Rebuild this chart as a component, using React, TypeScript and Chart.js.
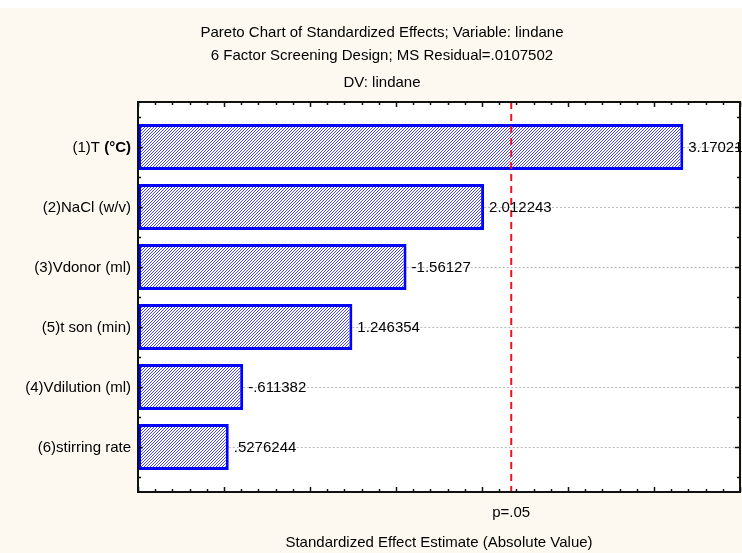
import React, { useEffect, useRef } from "react";
import { Chart, registerables } from "chart.js";

Chart.register(...registerables);

// ---- data ----
const categories = [
  "(1)T (°C)",
  "(2)NaCl (w/v)",
  "(3)Vdonor (ml)",
  "(5)t son (min)",
  "(4)Vdilution (ml)",
  "(6)stirring rate",
];
const boldSuffixes = ["(°C)", "", "", "", "", ""];
const effects = [3.17021, 2.012243, -1.56127, 1.246354, -0.611382, 0.5276244];
const effectLabels = ["3.17021", "2.012243", "-1.56127", "1.246354", "-.611382", ".5276244"];
const pCritical = 2.17;
const pLabel = "p=.05";
const titleLines = [
  "Pareto Chart of Standardized Effects; Variable: lindane",
  "6 Factor Screening Design; MS Residual=.0107502",
];
const subtitleText = "DV: lindane";
const xTitle = "Standardized Effect Estimate (Absolute Value)";
const xMin = 0;
const xMax = 3.5;

const FONT = "'Liberation Sans', Arial, Helvetica, sans-serif";
const FS = 15;
const CREAM = "#fdf9f0";

function makeHatch(): CanvasPattern | string {
  const c = document.createElement("canvas");
  c.width = 3;
  c.height = 3;
  const g = c.getContext("2d");
  if (!g) return "#8888ff";
  g.fillStyle = "#ffffff";
  g.fillRect(0, 0, 3, 3);
  g.fillStyle = "#4646ff";
  g.fillRect(2, 0, 1, 1);
  g.fillRect(1, 1, 1, 1);
  g.fillRect(0, 2, 1, 1);
  const p = g.createPattern(c, "repeat");
  return p || "#8888ff";
}

const paretoPlugin = {
  id: "paretoDecor",
  beforeDraw(chart: any) {
    const { ctx, chartArea: a } = chart;
    ctx.save();
    ctx.fillStyle = "#ffffff";
    ctx.fillRect(a.left, a.top, a.right - a.left, a.bottom - a.top);
    ctx.restore();
  },
  beforeDatasetsDraw(chart: any) {
    const { ctx, chartArea: a } = chart;
    const meta = chart.getDatasetMeta(0);
    ctx.save();
    ctx.strokeStyle = "#b8b8b8";
    ctx.lineWidth = 1;
    ctx.setLineDash([2, 2]);
    meta.data.forEach((bar: any) => {
      const { x, y } = bar.getProps(["x", "y"], true);
      const yy = Math.round(y) + 0.5;
      ctx.beginPath();
      ctx.moveTo(x, yy);
      ctx.lineTo(a.right, yy);
      ctx.stroke();
    });
    ctx.restore();
  },
  afterDatasetsDraw(chart: any) {
    const { ctx, chartArea: a, scales } = chart;
    const xs = scales.x;
    const ys = scales.y;

    // critical value line
    const px = xs.getPixelForValue(pCritical);
    ctx.save();
    ctx.strokeStyle = "#e8141c";
    ctx.lineWidth = 2;
    ctx.setLineDash([7, 5]);
    ctx.beginPath();
    ctx.moveTo(px, a.top);
    ctx.lineTo(px, a.bottom);
    ctx.stroke();
    ctx.restore();

    // frame
    ctx.save();
    ctx.strokeStyle = "#111111";
    ctx.lineWidth = 2;
    ctx.strokeRect(a.left, a.top, a.right - a.left, a.bottom - a.top);

    // inward ticks
    ctx.lineWidth = 1.5;
    ctx.beginPath();
    const nx = Math.round((xs.max - xs.min) / 0.1);
    for (let i = 0; i <= nx; i++) {
      const v = xs.min + i * 0.1;
      const p = Math.round(xs.getPixelForValue(v)) + 0.5;
      const len = i % 5 === 0 ? 5 : 3;
      ctx.moveTo(p, a.bottom);
      ctx.lineTo(p, a.bottom - len);
      ctx.moveTo(p, a.top);
      ctx.lineTo(p, a.top + len);
    }
    const yStart = Math.ceil(ys.min * 2) / 2;
    for (let v = yStart; v <= ys.max + 1e-9; v += 0.5) {
      const p = Math.round(ys.getPixelForValue(v)) + 0.5;
      const len = Math.abs(v - Math.round(v)) < 1e-6 ? 5 : 3;
      ctx.moveTo(a.left, p);
      ctx.lineTo(a.left + len, p);
      ctx.moveTo(a.right, p);
      ctx.lineTo(a.right - len, p);
    }
    ctx.stroke();
    ctx.restore();

    // value labels
    const meta = chart.getDatasetMeta(0);
    ctx.save();
    ctx.fillStyle = "#000000";
    ctx.font = `${FS}px ${FONT}`;
    ctx.textBaseline = "middle";
    ctx.textAlign = "left";
    meta.data.forEach((bar: any, i: number) => {
      const { x, y } = bar.getProps(["x", "y"], true);
      ctx.fillText(effectLabels[i], x + 5, y + 1);
    });
    ctx.restore();

    // category labels
    ctx.save();
    ctx.fillStyle = "#000000";
    ctx.textBaseline = "middle";
    ctx.textAlign = "left";
    categories.forEach((label, i) => {
      const y = ys.getPixelForValue(i) + 1;
      const bold = boldSuffixes[i];
      const has = !!bold && label.endsWith(bold);
      const normalPart = has ? label.slice(0, label.length - bold.length) : label;
      const boldPart = has ? bold : "";
      ctx.font = `${FS}px ${FONT}`;
      const wN = ctx.measureText(normalPart).width;
      ctx.font = `bold ${FS}px ${FONT}`;
      const wB = boldPart ? ctx.measureText(boldPart).width : 0;
      const right = a.left - 7;
      ctx.font = `${FS}px ${FONT}`;
      ctx.fillText(normalPart, right - wB - wN, y);
      if (boldPart) {
        ctx.font = `bold ${FS}px ${FONT}`;
        ctx.fillText(boldPart, right - wB, y);
      }
    });
    ctx.restore();

    // p label
    ctx.save();
    ctx.fillStyle = "#000000";
    ctx.font = `${FS}px ${FONT}`;
    ctx.textBaseline = "middle";
    ctx.textAlign = "center";
    ctx.fillText(pLabel, px, a.bottom + 21);
    ctx.restore();
  },
};

export default function App() {
  const ref = useRef<HTMLCanvasElement | null>(null);

  useEffect(() => {
    if (!ref.current) return;
    const hatch = makeHatch();
    const chart = new Chart(ref.current, {
      type: "bar",
      data: {
        datasets: [
          {
            data: effects.map((v, i) => ({ x: Math.abs(v), y: i })),
            backgroundColor: hatch as any,
            borderColor: "#0000ff",
            borderWidth: 3,
            borderSkipped: false,
            barPercentage: 0.77,
            categoryPercentage: 1,
          },
        ],
      },
      options: {
        indexAxis: "y",
        animation: false,
        responsive: false,
        devicePixelRatio: 1,
        events: [],
        layout: { padding: { left: 24, right: 2, top: 0, bottom: 0 } },
        plugins: {
          legend: { display: false },
          tooltip: { enabled: false },
          title: {
            display: true,
            text: titleLines,
            color: "#000000",
            font: { family: FONT, size: FS, weight: "normal", lineHeight: "23px" },
            padding: { top: 13, bottom: 0 },
          },
          subtitle: {
            display: true,
            text: subtitleText,
            color: "#000000",
            font: { family: FONT, size: FS, weight: "normal", lineHeight: "23px" },
            padding: { top: 4, bottom: 8 },
          },
        },
        scales: {
          x: {
            type: "linear",
            min: xMin,
            max: xMax,
            position: "bottom",
            offset: false,
            ticks: { display: false },
            grid: { display: false },
            border: { display: false },
            title: {
              display: true,
              text: xTitle,
              color: "#000000",
              font: { family: FONT, size: FS },
              padding: { top: 0, bottom: 1 },
            },
            afterFit: (s: any) => {
              s.height = 61;
            },
          },
          y: {
            type: "linear",
            min: -0.75,
            max: 5.75,
            reverse: true,
            offset: false,
            ticks: { display: false },
            grid: { display: false, offset: false },
            border: { display: false },
            afterBuildTicks: (s: any) => {
              s.ticks = categories.map((_, i) => ({ value: i }));
            },
            afterFit: (s: any) => {
              s.width = 114;
            },
          },
        },
      },
      plugins: [paretoPlugin],
    });
    return () => chart.destroy();
  }, []);

  return (
    <div style={{ position: "absolute", left: 0, top: 8, width: 742, height: 545, background: CREAM }}>
      <canvas ref={ref} width={742} height={545} style={{ display: "block", width: 742, height: 545 }} />
    </div>
  );
}
